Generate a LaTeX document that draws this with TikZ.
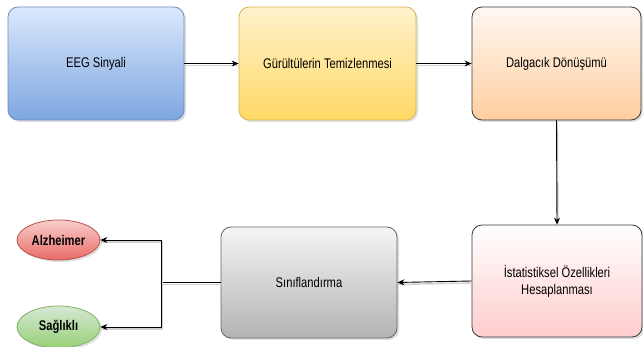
\documentclass[tikz,border=0pt]{standalone}
\usepackage{fontspec}
\setmainfont{Liberation Sans}
\newfontfamily\narrowfont[FakeStretch=0.8]{Liberation Sans}
\usetikzlibrary{shadows,arrows.meta,shapes.geometric}

\definecolor{blueTop}{HTML}{DAE8FC}
\definecolor{blueBot}{HTML}{7EA6E0}
\definecolor{blueLine}{HTML}{6C8EBF}
\definecolor{yelTop}{HTML}{FFF2CC}
\definecolor{yelBot}{HTML}{FFD966}
\definecolor{yelLine}{HTML}{D6B656}
\definecolor{peachTop}{HTML}{FFF8F2}
\definecolor{peachBot}{HTML}{FFCE9F}
\definecolor{pinkTop}{HTML}{FFFFFF}
\definecolor{pinkBot}{HTML}{FFCCCC}
\definecolor{darkLine}{HTML}{36393D}
\definecolor{grayTop}{HTML}{F5F5F5}
\definecolor{grayBot}{HTML}{B3B3B3}
\definecolor{grayLine}{HTML}{666666}
\definecolor{redTop}{HTML}{F8CECC}
\definecolor{redBot}{HTML}{EA6B66}
\definecolor{redLine}{HTML}{B85450}
\definecolor{greenTop}{HTML}{D5E8D4}
\definecolor{greenBot}{HTML}{97D077}
\definecolor{greenLine}{HTML}{82B366}

\tikzset{
  stepbox/.style={rectangle, rounded corners=10pt, line width=0.8pt,
    align=center, font=\narrowfont\fontsize{14}{17}\selectfont,
    drop shadow={shadow xshift=2pt, shadow yshift=-2pt, opacity=0.25}},
  result/.style={ellipse, line width=0.8pt, inner sep=0pt,
    font=\narrowfont\bfseries\fontsize{14}{17}\selectfont,
    drop shadow={shadow xshift=2pt, shadow yshift=-2pt, opacity=0.25}},
  conn/.style={line width=0.9pt, black,
    preaction={draw, arrows=-, black!18, line width=1.4pt,
      transform canvas={xshift=1pt, yshift=-2pt}}},
  tip/.style={-{Stealth[length=7pt, width=6pt]}}
}

\begin{document}
\begin{tikzpicture}[x=1pt, y=-1pt]
    \useasboundingbox (0,0) rectangle (643,347);

    %top row
    \node[stepbox, draw=blueLine, top color=blueTop, bottom color=blueBot,
      minimum width=176pt, minimum height=113pt] (eeg) at (96,63.5) {EEG Sinyali};
    \node[stepbox, draw=yelLine, top color=yelTop, bottom color=yelBot,
      minimum width=177pt, minimum height=113pt] (gurultu) at (327.5,63.5) {Gürültülerin Temizlenmesi};
    \node[stepbox, draw=darkLine, top color=peachTop, bottom color=peachBot,
      minimum width=169pt, minimum height=113pt] (dalgacik) at (556.5,63.5) {Dalgacık Dönüşümü};

    %bottom row
    \node[stepbox, draw=darkLine, top color=pinkTop, bottom color=pinkBot,
      minimum width=170pt, minimum height=112pt] (istat) at (557,281) {İstatistiksel Özellikleri\\Hesaplanması};
    \node[stepbox, draw=grayLine, top color=grayTop, bottom color=grayBot,
      minimum width=176pt, minimum height=111pt] (sinif) at (309,282.5) {Sınıflandırma};

    %classes
    \node[result, draw=redLine, top color=redTop, bottom color=redBot,
      minimum width=83pt, minimum height=40pt] (alz) at (58.5,240) {Alzheimer};
    \node[result, draw=greenLine, top color=greenTop, bottom color=greenBot,
      minimum width=83pt, minimum height=42pt] (sag) at (58.5,327) {Sağlıklı};

    %arrows
    \draw[conn, tip] (eeg) -- (gurultu);
    \draw[conn, tip] (gurultu) -- (dalgacik);
    \draw[conn, tip] (dalgacik.south) -- (istat.north);
    \draw[conn, tip] (istat.west) -- (sinif.east);
    \coordinate (split) at (161,282.5);
    \draw[conn] (sinif.west) -- (split);
    \draw[conn, tip] (split) |- (alz.east);
    \draw[conn, tip] (split) |- (sag.east);
\end{tikzpicture}
\end{document}
